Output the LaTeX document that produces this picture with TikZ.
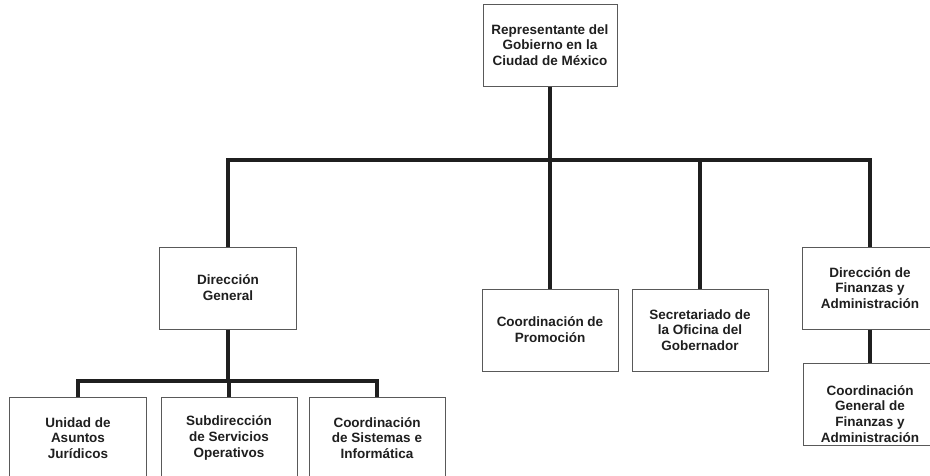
\documentclass[tikz,border=0pt]{standalone}
\usepackage{fontspec}
\setmainfont{Liberation Sans}
\begin{document}
\begin{tikzpicture}[x=1pt,y=-1pt,
  box/.style={draw=black!65, line width=1pt, fill=white, rectangle, inner sep=0pt,
    align=center, font=\fontsize{13.5}{15.8}\selectfont\bfseries, text=black!88},
  boxtext/.style={inner sep=0pt, align=center, font=\fontsize{13.5}{15.8}\selectfont\bfseries, text=black!88},
  conn/.style={line width=3.8pt, draw=black!88}]
\useasboundingbox (0,0) rectangle (930,475);
\clip (0,0) rectangle (930,475);
\coordinate (hl) at (0,160);
\coordinate (bl) at (0,381);
\node[box, minimum width=134pt, minimum height=82pt] (top) at (550,45) {Representante del\\Gobierno en la\\Ciudad de México};
\node[box, minimum width=137pt, minimum height=82pt] (dg) at (228,288) {Dirección\\General};
\node[box, minimum width=136pt, minimum height=82pt] (prom) at (550,330) {Coordinación de\\Promoción};
\node[box, minimum width=136pt, minimum height=82pt] (sec) at (700,330) {Secretariado de\\la Oficina del\\Gobernador};
\node[box, minimum width=136pt, minimum height=82pt] (fin) at (870,288) {Dirección de\\Finanzas y\\Administración};
\node[box, minimum width=134pt, minimum height=82pt] (cgf) at (870,404) {};
\node[boxtext] (cgft) at ([yshift=-10pt]cgf.center) {Coordinación\\General de\\Finanzas y\\Administración};
\node[box, minimum width=137pt, minimum height=82pt] (uaj) at (78,438) {Unidad de\\Asuntos\\Jurídicos};
\node[box, minimum width=136pt, minimum height=82pt] (sso) at (229,438) {Subdirección\\de Servicios\\Operativos};
\node[box, minimum width=136pt, minimum height=82pt] (csi) at (377,438) {Coordinación\\de Sistemas e\\Informática};
\draw[conn] (top.south) -- (top.south |- hl);
\draw[conn] (dg.north) -- (dg.north |- hl) -- (fin.north |- hl) -- (fin.north);
\draw[conn] (prom.north) -- (prom.north |- hl);
\draw[conn] (sec.north) -- (sec.north |- hl);
\draw[conn] (fin.south) -- (cgf.north);
\draw[conn] (dg.south) -- (dg.south |- bl);
\draw[conn] (uaj.north) -- (uaj.north |- bl) -- (csi.north |- bl) -- (csi.north);
\draw[conn] (sso.north) -- (sso.north |- bl);
\end{tikzpicture}
\end{document}
